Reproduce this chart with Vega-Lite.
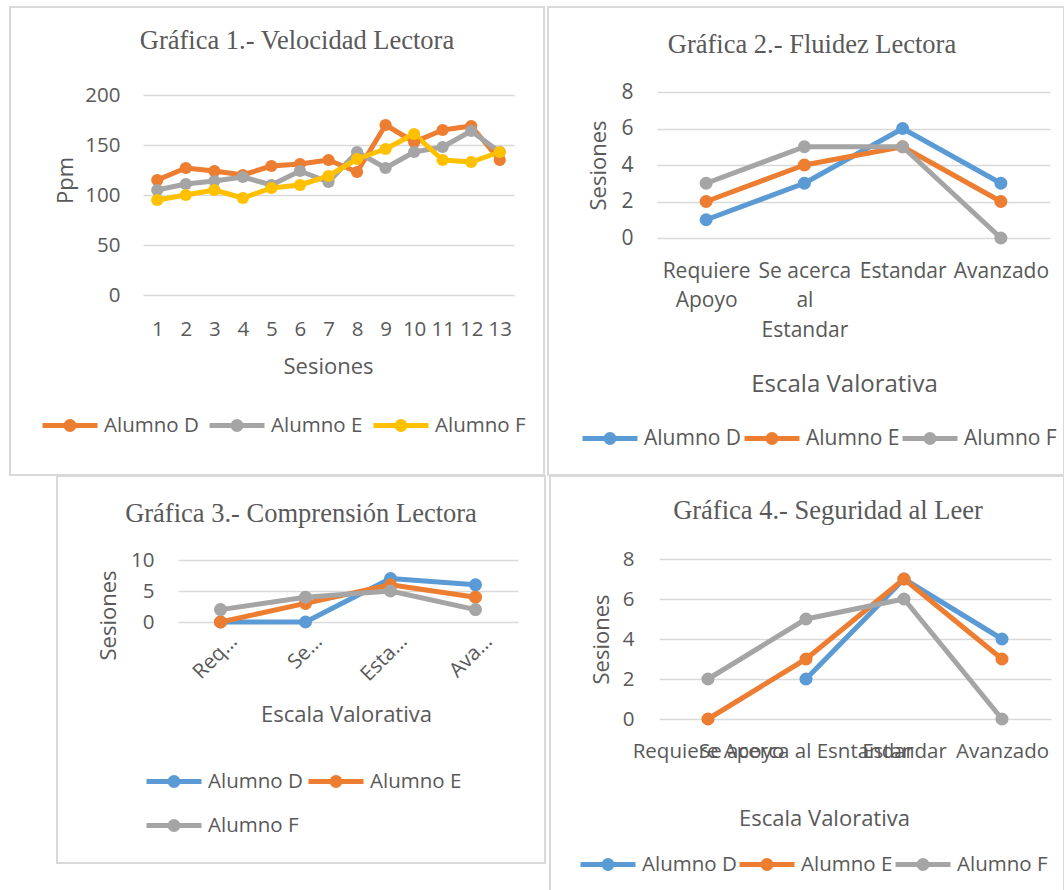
{
  "$schema": "https://vega.github.io/schema/vega-lite/v6.json",
  "background": "white",
  "padding": {"left": 9, "top": 6, "right": 0, "bottom": 0},
  "spacing": -2,
  "resolve": {"scale": {"color": "independent"}},
  "vconcat": [
    {
      "spacing": 4,
      "bounds": "flush",
      "resolve": {"scale": {"color": "independent"}},
      "hconcat": [
        {
          "width": 534,
          "height": 468,
          "data": {"values": [
            {"sesion": 1, "alumno": "Alumno D", "ppm": 115}, {"sesion": 2, "alumno": "Alumno D", "ppm": 127}, {"sesion": 3, "alumno": "Alumno D", "ppm": 124}, {"sesion": 4, "alumno": "Alumno D", "ppm": 120}, {"sesion": 5, "alumno": "Alumno D", "ppm": 129}, {"sesion": 6, "alumno": "Alumno D", "ppm": 131}, {"sesion": 7, "alumno": "Alumno D", "ppm": 135}, {"sesion": 8, "alumno": "Alumno D", "ppm": 123}, {"sesion": 9, "alumno": "Alumno D", "ppm": 170}, {"sesion": 10, "alumno": "Alumno D", "ppm": 153}, {"sesion": 11, "alumno": "Alumno D", "ppm": 165}, {"sesion": 12, "alumno": "Alumno D", "ppm": 169}, {"sesion": 13, "alumno": "Alumno D", "ppm": 135},
            {"sesion": 1, "alumno": "Alumno E", "ppm": 105}, {"sesion": 2, "alumno": "Alumno E", "ppm": 111}, {"sesion": 3, "alumno": "Alumno E", "ppm": 114}, {"sesion": 4, "alumno": "Alumno E", "ppm": 118}, {"sesion": 5, "alumno": "Alumno E", "ppm": 110}, {"sesion": 6, "alumno": "Alumno E", "ppm": 124}, {"sesion": 7, "alumno": "Alumno E", "ppm": 113}, {"sesion": 8, "alumno": "Alumno E", "ppm": 143}, {"sesion": 9, "alumno": "Alumno E", "ppm": 127}, {"sesion": 10, "alumno": "Alumno E", "ppm": 143}, {"sesion": 11, "alumno": "Alumno E", "ppm": 148}, {"sesion": 12, "alumno": "Alumno E", "ppm": 164}, {"sesion": 13, "alumno": "Alumno E", "ppm": 143},
            {"sesion": 1, "alumno": "Alumno F", "ppm": 95}, {"sesion": 2, "alumno": "Alumno F", "ppm": 100}, {"sesion": 3, "alumno": "Alumno F", "ppm": 105}, {"sesion": 4, "alumno": "Alumno F", "ppm": 97}, {"sesion": 5, "alumno": "Alumno F", "ppm": 107}, {"sesion": 6, "alumno": "Alumno F", "ppm": 110}, {"sesion": 7, "alumno": "Alumno F", "ppm": 119}, {"sesion": 8, "alumno": "Alumno F", "ppm": 136}, {"sesion": 9, "alumno": "Alumno F", "ppm": 146}, {"sesion": 10, "alumno": "Alumno F", "ppm": 161}, {"sesion": 11, "alumno": "Alumno F", "ppm": 135}, {"sesion": 12, "alumno": "Alumno F", "ppm": 133}, {"sesion": 13, "alumno": "Alumno F", "ppm": 143}
          ]},
          "title": {"text": "Gráfica 1.- Velocidad Lectora", "offset": -47, "dx": 20},
          "encoding": {
            "x": {"field": "sesion", "type": "ordinal",
              "scale": {"type": "point", "range": [133, 504], "padding": 0.5},
              "axis": {"orient": "bottom", "offset": -180, "labelAngle": 0, "labelPadding": 34, "labelBaseline": "middle", "labelOverlap": false, "grid": false, "title": "Sesiones", "titleX": 318, "titleY": 71, "titleBaseline": "middle", "titleAlign": "center"}},
            "y": {"field": "ppm", "type": "quantitative",
              "scale": {"domain": [0, 200], "range": [288, 88], "nice": false},
              "axis": {"values": [0, 50, 100, 150, 200], "offset": -133, "labelPadding": 23, "title": "Ppm", "titleX": -78, "titleY": 173, "titleBaseline": "middle", "titleAlign": "center"}}
          },
          "layer": [
            {"mark": {"type": "line", "strokeWidth": 5, "strokeJoin": "round"},
             "encoding": {"color": {"field": "alumno", "type": "nominal",
               "scale": {"domain": ["Alumno D", "Alumno E", "Alumno F"], "range": ["#ED7D31", "#A5A5A5", "#FFC000"]},
               "legend": {"orient": "none", "legendX": 30, "legendY": 388.5, "direction": "horizontal", "title": null, "padding": 0,
                 "symbolType": "M-1,0H1M0.145,0A0.145,0.145,0,1,1,-0.145,0A0.145,0.145,0,1,1,0.145,0M0.05,0A0.05,0.05,0,1,1,-0.05,0A0.05,0.05,0,1,1,0.05,0",
                 "symbolSize": 3025, "symbolStrokeWidth": 5, "labelFontSize": 20.5, "labelOffset": 4, "columnPadding": 0}}}},
            {"mark": {"type": "point", "filled": true, "size": 150, "opacity": 1},
             "encoding": {"color": {"field": "alumno", "type": "nominal", "legend": null}}}
          ]
        },
        {
          "width": 516,
          "height": 468,
          "data": {"values": [
            {"escala": "Requiere Apoyo", "alumno": "Alumno D", "sesiones": 1}, {"escala": "Se acerca al Estandar", "alumno": "Alumno D", "sesiones": 3}, {"escala": "Estandar", "alumno": "Alumno D", "sesiones": 6}, {"escala": "Avanzado", "alumno": "Alumno D", "sesiones": 3},
            {"escala": "Requiere Apoyo", "alumno": "Alumno E", "sesiones": 2}, {"escala": "Se acerca al Estandar", "alumno": "Alumno E", "sesiones": 4}, {"escala": "Estandar", "alumno": "Alumno E", "sesiones": 5}, {"escala": "Avanzado", "alumno": "Alumno E", "sesiones": 2},
            {"escala": "Requiere Apoyo", "alumno": "Alumno F", "sesiones": 3}, {"escala": "Se acerca al Estandar", "alumno": "Alumno F", "sesiones": 5}, {"escala": "Estandar", "alumno": "Alumno F", "sesiones": 5}, {"escala": "Avanzado", "alumno": "Alumno F", "sesiones": 0}
          ]},
          "title": {"text": "Gráfica 2.- Fluidez Lectora", "offset": -51, "dx": 6},
          "encoding": {
            "x": {"field": "escala", "type": "ordinal",
              "scale": {"type": "point", "domain": ["Requiere Apoyo", "Se acerca al Estandar", "Estandar", "Avanzado"], "range": [109, 502], "padding": 0.5},
              "axis": {"orient": "bottom", "offset": -237, "labelAngle": 0, "labelPadding": 22, "labelBaseline": "top", "labelLineHeight": 29.5, "labelFontSize": 21, "labelOverlap": false, "grid": false,
                "labelExpr": "datum.value == 'Requiere Apoyo' ? ['Requiere', 'Apoyo'] : datum.value == 'Se acerca al Estandar' ? ['Se acerca', 'al', 'Estandar'] : datum.value",
                "title": "Escala Valorativa", "titleFontSize": 24, "titleX": 296, "titleY": 146, "titleBaseline": "middle", "titleAlign": "center"}},
            "y": {"field": "sesiones", "type": "quantitative",
              "scale": {"domain": [0, 8], "range": [231, 85], "nice": false},
              "axis": {"values": [0, 2, 4, 6, 8], "offset": -109, "labelPadding": 24, "labelFontSize": 21, "title": "Sesiones", "titleX": -59, "titleY": 158, "titleBaseline": "middle", "titleAlign": "center"}}
          },
          "layer": [
            {"mark": {"type": "line", "strokeWidth": 5, "strokeJoin": "round"},
             "encoding": {"color": {"field": "alumno", "type": "nominal",
               "scale": {"domain": ["Alumno D", "Alumno E", "Alumno F"], "range": ["#5B9BD5", "#ED7D31", "#A5A5A5"]},
               "legend": {"orient": "none", "legendX": 32, "legendY": 401.5, "direction": "horizontal", "title": null, "padding": 0,
                 "symbolType": "M-1,0H1M0.145,0A0.145,0.145,0,1,1,-0.145,0A0.145,0.145,0,1,1,0.145,0M0.05,0A0.05,0.05,0,1,1,-0.05,0A0.05,0.05,0,1,1,0.05,0",
                 "symbolSize": 3025, "symbolStrokeWidth": 5, "labelFontSize": 21, "labelOffset": 4, "columnPadding": -14}}}},
            {"mark": {"type": "point", "filled": true, "size": 170, "opacity": 1},
             "encoding": {"color": {"field": "alumno", "type": "nominal", "legend": null}}}
          ]
        }
      ]
    },
    {
      "spacing": 5,
      "bounds": "flush",
      "resolve": {"scale": {"color": "independent"}},
      "hconcat": [
        {
          "width": 42,
          "height": 10,
          "data": {"values": []},
          "mark": "point",
          "view": {"stroke": null}
        },
        {
          "width": 488,
          "height": 387,
          "data": {"values": [
            {"escala": "Requiere Apoyo", "alumno": "Alumno D", "sesiones": 0}, {"escala": "Se acerca al Estandar", "alumno": "Alumno D", "sesiones": 0}, {"escala": "Estandar", "alumno": "Alumno D", "sesiones": 7}, {"escala": "Avanzado", "alumno": "Alumno D", "sesiones": 6},
            {"escala": "Requiere Apoyo", "alumno": "Alumno E", "sesiones": 0}, {"escala": "Se acerca al Estandar", "alumno": "Alumno E", "sesiones": 3}, {"escala": "Estandar", "alumno": "Alumno E", "sesiones": 6}, {"escala": "Avanzado", "alumno": "Alumno E", "sesiones": 4},
            {"escala": "Requiere Apoyo", "alumno": "Alumno F", "sesiones": 2}, {"escala": "Se acerca al Estandar", "alumno": "Alumno F", "sesiones": 4}, {"escala": "Estandar", "alumno": "Alumno F", "sesiones": 5}, {"escala": "Avanzado", "alumno": "Alumno F", "sesiones": 2}
          ]},
          "title": {"text": "Gráfica 3.- Comprensión Lectora", "offset": -51},
          "encoding": {
            "x": {"field": "escala", "type": "ordinal",
              "scale": {"type": "point", "domain": ["Requiere Apoyo", "Se acerca al Estandar", "Estandar", "Avanzado"], "range": [121, 461], "padding": 0.5},
              "axis": {"orient": "bottom", "offset": -241, "labelAngle": -45, "labelAlign": "right", "labelBaseline": "middle", "labelPadding": 16, "labelOffset": 13, "labelOverlap": false, "grid": false,
                "labelExpr": "datum.value == 'Requiere Apoyo' ? 'Req…' : datum.value == 'Se acerca al Estandar' ? 'Se…' : datum.value == 'Estandar' ? 'Esta…' : 'Ava…'",
                "title": "Escala Valorativa", "titleX": 289, "titleY": 92, "titleBaseline": "middle", "titleAlign": "center"}},
            "y": {"field": "sesiones", "type": "quantitative",
              "scale": {"domain": [0, 10], "range": [146, 84], "nice": false},
              "axis": {"values": [0, 5, 10], "offset": -121, "labelPadding": 24, "title": "Sesiones", "titleX": -70, "titleY": 139, "titleBaseline": "middle", "titleAlign": "center"}}
          },
          "layer": [
            {"mark": {"type": "line", "strokeWidth": 5, "strokeJoin": "round"},
             "encoding": {"color": {"field": "alumno", "type": "nominal",
               "scale": {"domain": ["Alumno D", "Alumno E", "Alumno F"], "range": ["#5B9BD5", "#ED7D31", "#A5A5A5"]},
               "legend": {"orient": "none", "legendX": 87, "legendY": 275.5, "direction": "horizontal", "columns": 2, "title": null, "padding": 0,
                 "symbolType": "M-1,0H1M0.145,0A0.145,0.145,0,1,1,-0.145,0A0.145,0.145,0,1,1,0.145,0M0.05,0A0.05,0.05,0,1,1,-0.05,0A0.05,0.05,0,1,1,0.05,0",
                 "symbolSize": 3025, "symbolStrokeWidth": 5, "labelFontSize": 20.5, "labelOffset": 4, "columnPadding": -5, "rowPadding": -5}}}},
            {"mark": {"type": "point", "filled": true, "size": 170, "opacity": 1},
             "encoding": {"color": {"field": "alumno", "type": "nominal", "legend": null}}}
          ]
        },
        {
          "width": 514,
          "height": 415,
          "data": {"values": [
            {"escala": "Se acerca al Esntandar", "alumno": "Alumno D", "sesiones": 2}, {"escala": "Estandar", "alumno": "Alumno D", "sesiones": 7}, {"escala": "Avanzado", "alumno": "Alumno D", "sesiones": 4},
            {"escala": "Requiere Apoyo", "alumno": "Alumno E", "sesiones": 0}, {"escala": "Se acerca al Esntandar", "alumno": "Alumno E", "sesiones": 3}, {"escala": "Estandar", "alumno": "Alumno E", "sesiones": 7}, {"escala": "Avanzado", "alumno": "Alumno E", "sesiones": 3},
            {"escala": "Requiere Apoyo", "alumno": "Alumno F", "sesiones": 2}, {"escala": "Se acerca al Esntandar", "alumno": "Alumno F", "sesiones": 5}, {"escala": "Estandar", "alumno": "Alumno F", "sesiones": 6}, {"escala": "Avanzado", "alumno": "Alumno F", "sesiones": 0}
          ]},
          "title": {"text": "Gráfica 4.- Seguridad al Leer", "offset": -48, "dx": 21},
          "encoding": {
            "x": {"field": "escala", "type": "ordinal",
              "scale": {"type": "point", "domain": ["Requiere Apoyo", "Se acerca al Esntandar", "Estandar", "Avanzado"], "range": [109, 501], "padding": 0.5},
              "axis": {"orient": "bottom", "offset": -172, "labelAngle": 0, "labelPadding": 32, "labelBaseline": "middle", "labelOverlap": false, "labelBound": false, "labelLimit": 400, "grid": false,
                "title": "Escala Valorativa", "titleX": 274, "titleY": 99, "titleBaseline": "middle", "titleAlign": "center"}},
            "y": {"field": "sesiones", "type": "quantitative",
              "scale": {"domain": [0, 8], "range": [243, 83], "nice": false},
              "axis": {"values": [0, 2, 4, 6, 8], "offset": -109, "labelPadding": 25, "title": "Sesiones", "titleX": -58, "titleY": 163, "titleBaseline": "middle", "titleAlign": "center"}}
          },
          "layer": [
            {"mark": {"type": "line", "strokeWidth": 5, "strokeJoin": "round"},
             "encoding": {"color": {"field": "alumno", "type": "nominal",
               "scale": {"domain": ["Alumno D", "Alumno E", "Alumno F"], "range": ["#5B9BD5", "#ED7D31", "#A5A5A5"]},
               "legend": {"orient": "none", "legendX": 28, "legendY": 358.5, "direction": "horizontal", "title": null, "padding": 0,
                 "symbolType": "M-1,0H1M0.145,0A0.145,0.145,0,1,1,-0.145,0A0.145,0.145,0,1,1,0.145,0M0.05,0A0.05,0.05,0,1,1,-0.05,0A0.05,0.05,0,1,1,0.05,0",
                 "symbolSize": 3025, "symbolStrokeWidth": 5, "labelFontSize": 20.5, "labelOffset": 4, "columnPadding": -14}}}},
            {"mark": {"type": "point", "filled": true, "size": 170, "opacity": 1},
             "encoding": {"color": {"field": "alumno", "type": "nominal", "legend": null}}}
          ]
        }
      ]
    }
  ],
  "config": {
    "view": {"stroke": "#D9D9D9", "strokeWidth": 2},
    "title": {"font": "Liberation Serif", "fontSize": 26.5, "fontWeight": "normal", "color": "#595959", "anchor": "middle", "frame": "group"},
    "axis": {"labelFont": "Open Sans", "labelFontSize": 20.5, "labelColor": "#595959", "titleFont": "Open Sans", "titleFontSize": 22, "titleFontWeight": "normal", "titleColor": "#595959", "domain": false, "ticks": false, "tickSize": 0, "gridColor": "#D9D9D9", "gridWidth": 1.5},
    "axisX": {"grid": false},
    "axisY": {"grid": true},
    "legend": {"labelFont": "Open Sans", "labelColor": "#595959", "labelLimit": 200}
  }
}
